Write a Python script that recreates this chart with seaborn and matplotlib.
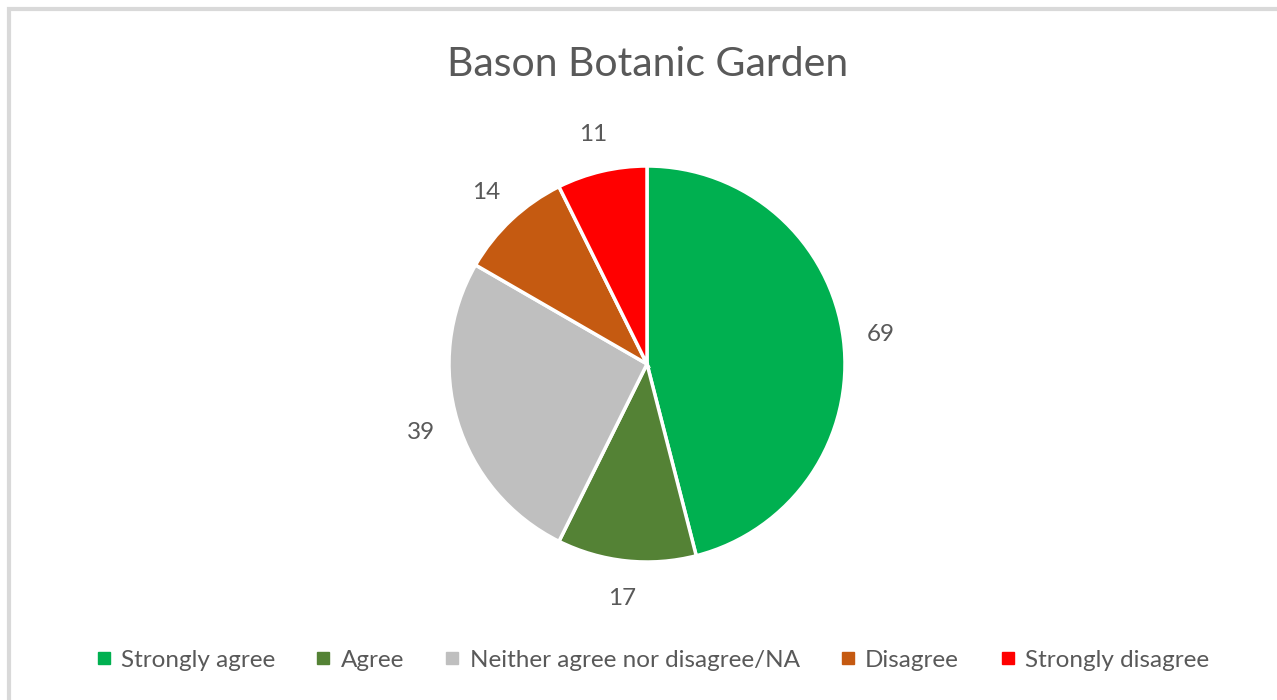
import matplotlib
matplotlib.use("Agg")
import matplotlib.pyplot as plt
from matplotlib.lines import Line2D
from matplotlib.patches import Rectangle
import seaborn as sns

# data
categories = ['Strongly agree', 'Agree', 'Neither agree nor disagree/NA',
              'Disagree', 'Strongly disagree']
counts = [69, 17, 39, 14, 11]
colors = ['#00B050', '#548235', '#BFBFBF', '#C55A11', '#FF0000']
title = 'Bason Botanic Garden'

sns.set_theme(style='white')
plt.rcParams['font.family'] = ['Lato', 'DejaVu Sans']
text_color = '#595959'
palette = sns.color_palette(colors)

W, H = 1277, 700
fig = plt.figure(figsize=(W / 100, H / 100), dpi=100)
fig.patch.set_facecolor('white')

# light grey frame (only top/left edges visible in the crop)
fig.add_artist(Rectangle((8.5 / W, -0.1), 1.2, 1 - 9.5 / H + 0.1,
                         transform=fig.transFigure, fill=False,
                         edgecolor='#D9D9D9', linewidth=3))

# pie area: square box in pixels
left, top, size = 449, 166, 396
ax = fig.add_axes([left / W, (H - top - size) / H, size / W, size / H])
wedges, texts = ax.pie(counts, colors=palette, startangle=90, counterclock=False,
                       labels=[str(c) for c in counts], labeldistance=1.19,
                       wedgeprops=dict(edgecolor='white', linewidth=2.5),
                       textprops=dict(color=text_color, fontsize=17.5))
for t in texts:
    t.set_horizontalalignment('center')
    t.set_verticalalignment('center')
ax.set_xlim(-1, 1)
ax.set_ylim(-1, 1)
ax.axis('off')

fig.text(647.5 / W, (H - 65) / H, title, ha='center', va='center',
         fontsize=29.5, color=text_color)

handles = [Line2D([0], [0], marker='s', linestyle='none', markersize=8,
                  markerfacecolor=c, markeredgecolor=c) for c in palette]
fig.legend(handles, categories, loc='center', bbox_to_anchor=(0.511, (H - 660) / H),
           ncol=5, frameon=False, fontsize=17.5, labelcolor=text_color,
           handlelength=0.6, handletextpad=0.4, columnspacing=1.7)

fig.savefig('out.png', dpi=100)
